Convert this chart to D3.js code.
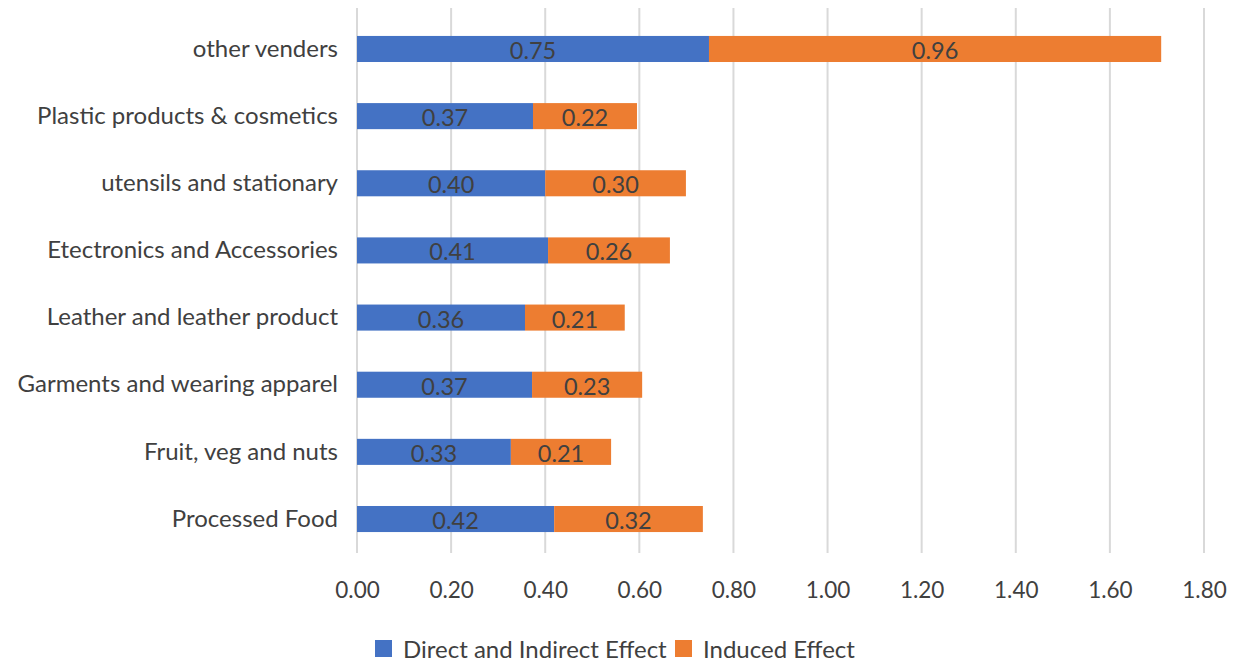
<!DOCTYPE html>
<html>
<head>
<meta charset="utf-8">
<script src="https://cdn.jsdelivr.net/npm/d3@7"></script>
<style>
  html, body { margin: 0; padding: 0; background: #fff; }
  svg { display: block; }
  text { font-family: Lato, "Open Sans", sans-serif; fill: #404040; }
</style>
</head>
<body>
<svg id="chart" width="1238" height="664"></svg>
<script>
const categories = [
  "other venders",
  "Plastic products & cosmetics",
  "utensils and stationary",
  "Etectronics and Accessories",
  "Leather and leather product",
  "Garments and wearing apparel",
  "Fruit, veg and nuts",
  "Processed Food"
];
const directIndirect = [0.748, 0.374, 0.400, 0.406, 0.357, 0.372, 0.327, 0.419];
const induced        = [0.961, 0.221, 0.299, 0.259, 0.212, 0.234, 0.213, 0.316];
const seriesNames = ["Direct and Indirect Effect", "Induced Effect"];
const seriesColors = ["#4472C4", "#ED7D31"];
const xTicks = [0, 0.2, 0.4, 0.6, 0.8, 1.0, 1.2, 1.4, 1.6, 1.8];

const FONT = "Lato, 'Open Sans', sans-serif";
const svg = d3.select("#chart");
const x = d3.scaleLinear().domain([0, 1.8]).range([357, 1204]);
const y = d3.scaleBand().domain(categories).range([15.4, 552.6]).paddingInner(0.612).paddingOuter(0.306);

// gridlines
svg.append("g").selectAll("line").data(xTicks).join("line")
  .attr("x1", d => x(d)).attr("x2", d => x(d))
  .attr("y1", 8).attr("y2", 553)
  .attr("stroke", "#d9d9d9").attr("stroke-width", 2);

// x-axis labels
const xAxis = d3.axisBottom(x).tickValues(xTicks).tickFormat(d3.format(".2f")).tickSize(0).tickPadding(0);
const gx = svg.append("g").attr("transform", "translate(0,582)").call(xAxis);
gx.select(".domain").remove();
gx.selectAll("text").style("font-size", "22.5px").style("font-family", FONT).attr("fill", "#595959");

// y-axis labels
const yAxis = d3.axisLeft(y).tickSize(0).tickPadding(0);
const gy = svg.append("g").attr("transform", "translate(338,0)").call(yAxis);
gy.select(".domain").remove();
gy.selectAll("text").style("font-size", "24px").style("font-family", FONT).attr("fill", "#404040");

// stacked data
const rows = categories.map((c, i) => ({ cat: c, v: [directIndirect[i], induced[i]] }));
const segs = [];
rows.forEach(r => {
  let start = 0;
  r.v.forEach((v, s) => {
    segs.push({ cat: r.cat, s, x0: start, x1: start + v, v });
    start += v;
  });
});

svg.append("g").selectAll("rect").data(segs).join("rect")
  .attr("x", d => x(d.x0))
  .attr("y", d => y(d.cat))
  .attr("width", d => x(d.x1) - x(d.x0))
  .attr("height", y.bandwidth())
  .attr("fill", d => seriesColors[d.s]);

svg.append("g").selectAll("text").data(segs).join("text")
  .attr("x", d => (x(d.x0) + x(d.x1)) / 2)
  .attr("y", d => y(d.cat) + y.bandwidth() / 2 + 1)
  .attr("text-anchor", "middle")
  .attr("dominant-baseline", "central")
  .style("font-size", "23.5px")
  .attr("fill", "#404040")
  .text(d => d3.format(".2f")(d.v));

// legend
const legendItems = [
  { name: seriesNames[0], color: seriesColors[0], x: 375 },
  { name: seriesNames[1], color: seriesColors[1], x: 675 }
];
const lg = svg.append("g");
legendItems.forEach(it => {
  lg.append("rect").attr("x", it.x).attr("y", 640).attr("width", 17).attr("height", 17).attr("fill", it.color);
  lg.append("text").attr("x", it.x + 28).attr("y", 648)
    .attr("dominant-baseline", "central")
    .style("font-size", "24px").attr("fill", "#595959")
    .text(it.name);
});
</script>
</body>
</html>
